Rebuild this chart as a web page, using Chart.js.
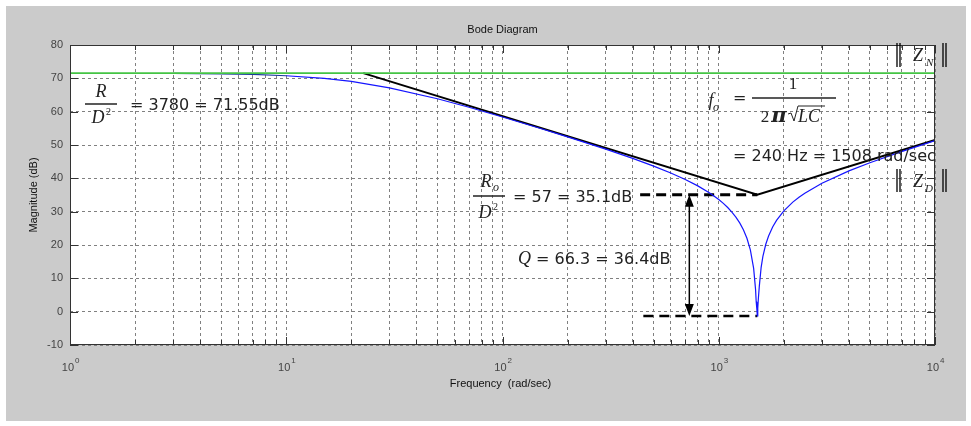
<!DOCTYPE html>
<html>
<head>
<meta charset="utf-8">
<script src="https://cdn.jsdelivr.net/npm/chart.js@4"></script>
<style>
  body { margin: 0; background: #fff; }
  #wrap { width: 971px; height: 426px; }
</style>
</head>
<body>
<div id="wrap"><canvas id="bode" width="971" height="426"></canvas></div>
<script>
// values
const freq = [3, 5, 7, 10, 15, 20, 30, 50, 70, 100, 150, 200, 300, 400, 500, 600, 700, 800, 900, 950, 1000,
  1050, 1100, 1150, 1200, 1250, 1300, 1350, 1400, 1450, 1480, 1490, 1500, 1508, 1515, 1525, 1540, 1570, 1600,
  1650, 1700, 1775, 1850, 2000, 2200, 2350, 2500, 3000, 4000, 5000, 7000, 10000];
const magDb = [71.47, 71.34, 71.16, 70.78, 69.98, 69.06, 67.16, 63.88, 61.33, 58.41, 54.96, 52.45, 48.75, 45.99, 43.67, 41.6, 39.65, 37.73, 35.75, 34.73, 33.64,
  32.49, 31.24, 29.89, 28.38, 26.64, 24.58, 22.02, 18.55, 13.0, 6.6, 3.0, 0.8, -1.3, 1.0, 4.0, 7.6, 13.2, 16.6,
  20.22, 22.7, 25.41, 27.4, 30.25, 32.87, 34.35, 35.56, 38.55, 42.24, 44.69, 48.03, 51.33];

const flatFreq = [1, 10000];
const flatDb = [71.55, 71.55];

const asymFreq = [22.7, 1508, 10000];
const asymDb = [71.55, 35.1, 51.5];

const roFreq = [433, 1508];
const roDb = [35.1, 35.1];
const notchFreq = [448, 1508];
const notchDb = [-1.3, -1.3];

const arrowFreq = 731;
const arrowDb = [35.1, -1.3];

const yTicks = [-10, 0, 10, 20, 30, 40, 50, 60, 70, 80];
const xDecades = [1, 10, 100, 1000, 10000];
const xExponents = ['0', '1', '2', '3', '4'];

const xGrid = [];
for (let d = 1; d < 10000; d *= 10) {
  for (let k = 1; k < 10; k++) xGrid.push(d * k);
}
xGrid.push(10000);

const pts = (xs, ys) => xs.map((x, i) => ({ x: x, y: ys[i] }));

const serif = 'italic 18px "Liberation Serif", "DejaVu Serif", serif';
const sans = '16px "DejaVu Sans", sans-serif';
const ink = '#222';

function frac(ctx, top, bottom, x1, x2, y) {
  ctx.beginPath();
  ctx.moveTo(x1, y);
  ctx.lineTo(x2, y);
  ctx.lineWidth = 1.5;
  ctx.strokeStyle = ink;
  ctx.stroke();
  top();
  bottom();
}

function txt(ctx, s, x, y, font, align) {
  ctx.font = font;
  ctx.textAlign = align || 'left';
  ctx.fillText(s, x, y);
}

function bars(ctx, x, y1, y2) {
  ctx.beginPath();
  ctx.moveTo(x, y1); ctx.lineTo(x, y2);
  ctx.moveTo(x + 3, y1); ctx.lineTo(x + 3, y2);
  ctx.lineWidth = 1.3;
  ctx.strokeStyle = '#000';
  ctx.stroke();
}

const bodePlugin = {
  id: 'bode',
  beforeDraw(chart) {
    const { ctx, chartArea: a } = chart;
    ctx.save();
    ctx.fillStyle = '#fff';
    ctx.fillRect(0, 0, chart.width, chart.height);
    ctx.fillStyle = '#cbcbcb';
    ctx.fillRect(6, 6, 960, 415);
    ctx.fillStyle = '#fff';
    ctx.fillRect(a.left, a.top, a.right - a.left, a.bottom - a.top);
    ctx.restore();
  },
  afterDatasetsDraw(chart) {
    const { ctx, chartArea: a, scales: { x, y } } = chart;
    ctx.save();

    // frame and inward ticks
    ctx.strokeStyle = '#333';
    ctx.lineWidth = 1;
    ctx.strokeRect(a.left + 0.5, a.top + 0.5, a.right - a.left - 1, a.bottom - a.top - 1);
    ctx.beginPath();
    xGrid.forEach(v => {
      const px = Math.round(x.getPixelForValue(v)) + 0.5;
      const len = xDecades.includes(v) ? 8 : 5;
      ctx.moveTo(px, a.bottom); ctx.lineTo(px, a.bottom - len);
      ctx.moveTo(px, a.top); ctx.lineTo(px, a.top + len);
    });
    yTicks.forEach(v => {
      const py = Math.round(y.getPixelForValue(v)) + 0.5;
      ctx.moveTo(a.left, py); ctx.lineTo(a.left + 8, py);
      ctx.moveTo(a.right, py); ctx.lineTo(a.right - 8, py);
    });
    ctx.stroke();

    // tick labels
    ctx.fillStyle = '#444';
    ctx.textBaseline = 'middle';
    yTicks.forEach(v => {
      txt(ctx, String(v), a.left - 7, y.getPixelForValue(v), '11px "Liberation Sans", Arial, sans-serif', 'right');
    });
    ctx.textBaseline = 'alphabetic';
    xDecades.forEach((v, i) => {
      const px = x.getPixelForValue(v);
      txt(ctx, '10', px + 4, a.bottom + 26, '11px "Liberation Sans", Arial, sans-serif', 'right');
      txt(ctx, xExponents[i], px + 5, a.bottom + 18, '8px "Liberation Sans", Arial, sans-serif', 'left');
    });

    // titles
    ctx.fillStyle = '#111';
    txt(ctx, 'Bode Diagram', (a.left + a.right) / 2, 33, '11px "Liberation Sans", Arial, sans-serif', 'center');
    txt(ctx, 'Frequency  (rad/sec)', (a.left + a.right) / 2 - 2, 387, '11px "Liberation Sans", Arial, sans-serif', 'center');
    ctx.save();
    ctx.translate(37, (a.top + a.bottom) / 2);
    ctx.rotate(-Math.PI / 2);
    txt(ctx, 'Magnitude (dB)', 0, 0, '11px "Liberation Sans", Arial, sans-serif', 'center');
    ctx.restore();

    // double arrow for Q
    const ax = x.getPixelForValue(arrowFreq);
    const ay1 = y.getPixelForValue(arrowDb[0]);
    const ay2 = y.getPixelForValue(arrowDb[1]);
    ctx.strokeStyle = '#000';
    ctx.fillStyle = '#000';
    ctx.lineWidth = 1.5;
    ctx.beginPath();
    ctx.moveTo(ax, ay1 + 8); ctx.lineTo(ax, ay2 - 8);
    ctx.stroke();
    ctx.beginPath();
    ctx.moveTo(ax, ay1); ctx.lineTo(ax - 4.5, ay1 + 12); ctx.lineTo(ax + 4.5, ay1 + 12); ctx.closePath();
    ctx.moveTo(ax, ay2); ctx.lineTo(ax - 4.5, ay2 - 12); ctx.lineTo(ax + 4.5, ay2 - 12); ctx.closePath();
    ctx.fill();

    // annotations
    ctx.fillStyle = ink;
    frac(ctx,
      () => txt(ctx, 'R', 101, 97, serif, 'center'),
      () => { txt(ctx, 'D', 98, 123, serif, 'center'); txt(ctx, '2', 106, 115, '10px "Liberation Serif", serif'); },
      85, 117, 104);
    txt(ctx, '= 3780 = 71.55dB', 130, 110, sans);

    txt(ctx, 'f', 711, 106, serif, 'center');
    txt(ctx, 'o', 713, 111, 'italic 12px "Liberation Serif", serif');
    txt(ctx, '=', 733, 103, sans);
    frac(ctx,
      () => txt(ctx, '1', 793, 89, '17px "Liberation Serif", serif', 'center'),
      () => {
        txt(ctx, '2', 765, 122, '17px "Liberation Serif", serif', 'center');
        txt(ctx, 'π', 779, 122, 'bold italic 21px "DejaVu Serif", serif', 'center');
        ctx.beginPath();
        ctx.moveTo(788, 114); ctx.lineTo(791, 113); ctx.lineTo(794, 121); ctx.lineTo(798, 106); ctx.lineTo(825, 106);
        ctx.lineWidth = 1;
        ctx.stroke();
        txt(ctx, 'LC', 798, 122, serif);
      },
      752, 836, 98);
    txt(ctx, '= 240 Hz = 1508 rad/sec', 733, 161, sans);

    frac(ctx,
      () => { txt(ctx, 'R', 486, 187, serif, 'center'); txt(ctx, 'o', 493, 191, 'italic 12px "Liberation Serif", serif'); },
      () => { txt(ctx, 'D', 485, 218, serif, 'center'); txt(ctx, '2', 493, 210, '10px "Liberation Serif", serif'); },
      473, 505, 196);
    txt(ctx, '= 57 = 35.1dB', 513, 202, sans);

    txt(ctx, 'Q', 518, 264, serif);
    txt(ctx, '= 66.3 = 36.4dB', 536, 264, sans);

    bars(ctx, 897, 43, 67);
    txt(ctx, 'Z', 913, 61, serif);
    txt(ctx, 'N', 926, 66, 'italic 11px "Liberation Serif", serif');
    bars(ctx, 943, 43, 67);
    bars(ctx, 897, 169, 192);
    txt(ctx, 'Z', 913, 187, serif);
    txt(ctx, 'D', 925, 192, 'italic 11px "Liberation Serif", serif');
    bars(ctx, 943, 169, 192);

    ctx.restore();
  }
};

new Chart(document.getElementById('bode').getContext('2d'), {
  type: 'line',
  data: {
    datasets: [
      {
        data: pts(flatFreq, flatDb),
        borderColor: '#44c444',
        borderWidth: 1.6,
        pointRadius: 0,
      },
      {
        data: pts(freq, magDb),
        borderColor: '#1515ff',
        borderWidth: 1.2,
        pointRadius: 0,
        segment: {
          borderColor: c => c.p0.parsed.x < 7.5 ? '#1b3b9b' : '#1515ff',
        },
      },
      {
        data: pts(asymFreq, asymDb),
        borderColor: '#000',
        borderWidth: 2,
        pointRadius: 0,
      },
      {
        data: pts(roFreq, roDb),
        borderColor: '#000',
        borderWidth: 3,
        borderDash: [10, 6],
        pointRadius: 0,
      },
      {
        data: pts(notchFreq, notchDb),
        borderColor: '#000',
        borderWidth: 2.5,
        borderDash: [10, 6],
        pointRadius: 0,
      },
    ]
  },
  options: {
    responsive: false,
    animation: false,
    layout: { padding: { left: 70, right: 36, top: 45, bottom: 81 } },
    plugins: { legend: { display: false }, tooltip: { enabled: false } },
    scales: {
      x: {
        type: 'logarithmic',
        min: 1,
        max: 10000,
        afterBuildTicks: scale => { scale.ticks = xGrid.map(v => ({ value: v })); },
        ticks: { display: false },
        grid: { color: '#808080', lineWidth: 1, drawTicks: false },
        border: { display: false, dash: [3, 3] },
      },
      y: {
        type: 'linear',
        min: -10,
        max: 80,
        afterBuildTicks: scale => { scale.ticks = yTicks.map(v => ({ value: v })); },
        ticks: { display: false },
        grid: { color: '#808080', lineWidth: 1, drawTicks: false },
        border: { display: false, dash: [3, 3] },
      },
    },
  },
  plugins: [bodePlugin],
});
</script>
</body>
</html>
